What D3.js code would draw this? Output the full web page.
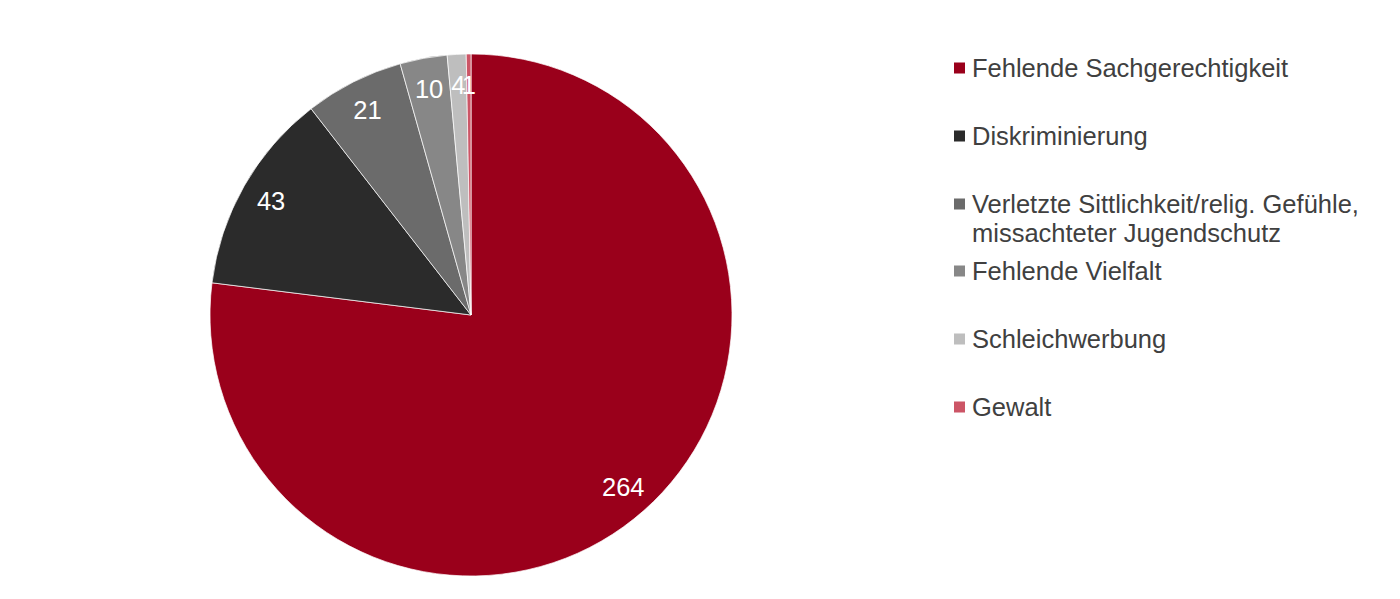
<!DOCTYPE html>
<html><head><meta charset="utf-8">
<script src="https://cdn.jsdelivr.net/npm/d3@7"></script>
<style>body{margin:0;background:#fff}svg{display:block}</style>
</head><body>
<svg id="c" width="1400" height="599"></svg>
<script>
const categories = ["Fehlende Sachgerechtigkeit","Diskriminierung","Verletzte Sittlichkeit/relig. Gefühle, missachteter Jugendschutz","Fehlende Vielfalt","Schleichwerbung","Gewalt"];
const legendLines = [["Fehlende Sachgerechtigkeit"],["Diskriminierung"],["Verletzte Sittlichkeit/relig. Gefühle,","missachteter Jugendschutz"],["Fehlende Vielfalt"],["Schleichwerbung"],["Gewalt"]];
const values = [264,43,21,10,4,1];
const colors = ["#9A001B","#2B2B2B","#6B6B6B","#878787","#BEBEBE","#CC5566"];

const FONT = "'Liberation Sans', Arial, Helvetica, sans-serif";
const svg = d3.select("#c");
const cx = 471, cy = 315, R = 261, labelR = 230;
const data = categories.map((c,i)=>({cat:c,value:values[i],color:colors[i]}));
const pie = d3.pie().value(d=>d.value).sort(null);
const arcs = pie(data);
const arc = d3.arc().innerRadius(0).outerRadius(R);
const labelArc = d3.arc().innerRadius(labelR).outerRadius(labelR);
const g = svg.append("g").attr("transform",`translate(${cx},${cy})`);
g.selectAll("path").data(arcs).join("path")
  .attr("d",arc).attr("fill",d=>d.data.color)
  .attr("stroke","#fff").attr("stroke-width",0.7);
g.selectAll("text").data(arcs).join("text")
  .attr("transform",d=>`translate(${labelArc.centroid(d)})`)
  .attr("text-anchor","middle").attr("dy","0.35em")
  .attr("font-family",FONT)
  .attr("font-size",25.5).attr("fill","#fff")
  .text(d=>d.data.value);

const legendY = [68,136,204,271,339,407];
const lg = svg.append("g");
legendLines.forEach((lines,i)=>{
  lg.append("rect").attr("x",954).attr("y",legendY[i]-5.5).attr("width",11).attr("height",11).attr("fill",colors[i]);
  const t = lg.append("text").attr("x",972).attr("y",legendY[i])
    .attr("font-family",FONT).attr("font-size",25.5).attr("fill","#404040");
  lines.forEach((l,j)=>{
    t.append("tspan").attr("x",972).attr("dy",j===0?"0.35em":"29").text(l);
  });
});
</script>
</body></html>
